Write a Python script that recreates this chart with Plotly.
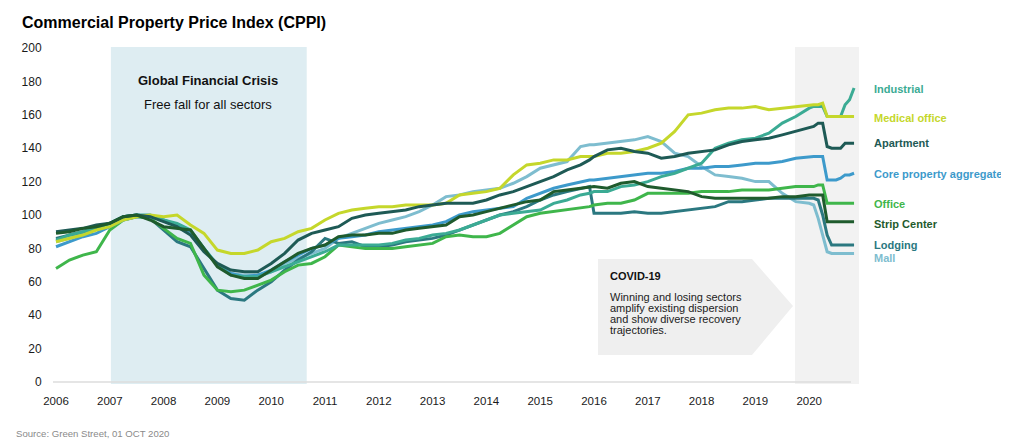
import plotly.graph_objects as go

# ---------------- data ----------------
dates = [
    "2006-01", "2006-04", "2006-07", "2006-10",
    "2007-01", "2007-04", "2007-07", "2007-10",
    "2008-01", "2008-04", "2008-07", "2008-10",
    "2009-01", "2009-04", "2009-07", "2009-10",
    "2010-01", "2010-04", "2010-07", "2010-10",
    "2011-01", "2011-04", "2011-07", "2011-10",
    "2012-01", "2012-04", "2012-07", "2012-10",
    "2013-01", "2013-04", "2013-07", "2013-10",
    "2014-01", "2014-04", "2014-07", "2014-10",
    "2015-01", "2015-04", "2015-07", "2015-10", "2015-12",
    "2016-01", "2016-04", "2016-07", "2016-10",
    "2017-01", "2017-04", "2017-07", "2017-10",
    "2018-01", "2018-04", "2018-07", "2018-10",
    "2019-01", "2019-04", "2019-07", "2019-10",
    "2020-01", "2020-02", "2020-03", "2020-04", "2020-05", "2020-06",
    "2020-07", "2020-08", "2020-09", "2020-10", "2020-11",
]

industrial = [
    85, 88, 90, 92, 95, 99, 100, 100, 97, 95, 91, 80, 70, 64, 63, 63,
    66, 69, 72, 75, 78, 82, 82, 82, 82, 83, 85, 86, 88, 89, 91, 94,
    97, 100, 101, 102, 103, 107, 109, 112, 113,
    114, 114, 117, 118, 120, 123, 125, 128, 131, 140, 143, 145, 146, 149, 155, 159,
    164, 165, 165, 165, 159, 159, 159, 159, 166, 169, 176,
]
medical_office = [
    84, 86, 88, 91, 93, 97, 99, 100, 99, 100, 94, 89, 79, 77, 77, 79,
    84, 86, 90, 92, 97, 101, 103, 104, 105, 105, 106, 106, 106, 107, 112, 113,
    114, 116, 124, 130, 131, 133, 133, 135, 135,
    135, 137, 137, 138, 140, 143, 150, 160, 161, 163, 164, 164, 165, 163, 164, 165,
    166, 166, 166, 167, 159, 159, 159, 159, 159, 159, 159,
]
apartment = [
    90, 91, 92, 94, 95, 99, 100, 99, 96, 93, 88, 78, 71, 67, 66, 66,
    71, 77, 85, 89, 91, 93, 98, 100, 101, 102, 103, 105, 106, 107, 107, 107,
    109, 112, 114, 117, 120, 123, 127, 130, 133,
    135, 139, 140, 138, 137, 134, 135, 137, 138, 139, 142, 144, 145, 146, 148, 150,
    152, 153, 155, 155, 141, 140, 140, 140, 143, 143, 143,
]
core_aggregate = [
    81, 84, 87, 89, 93, 97, 99, 99, 97, 94, 90, 80, 70, 65, 63, 64,
    67, 72, 76, 80, 82, 86, 87, 88, 90, 91, 92, 93, 94, 96, 100, 102,
    103, 104, 105, 110, 113, 116, 118, 120, 121,
    121, 122, 123, 124, 125, 125, 126, 128, 128, 129, 129, 130, 131, 131, 132, 134,
    135, 135, 135, 135, 121, 121, 121, 122, 124, 124, 125,
]
office = [
    68, 73, 76, 78, 91, 97, 99, 98, 92, 86, 83, 64, 55, 54, 55, 58,
    61, 66, 70, 71, 75, 82, 81, 80, 80, 80, 81, 82, 83, 87, 88, 87,
    87, 89, 94, 99, 101, 102, 103, 104, 105,
    106, 107, 107, 109, 113, 113, 113, 113, 114, 114, 114, 115, 115, 115, 116, 117,
    117, 117, 118, 118, 107, 107, 107, 107, 107, 107, 107,
]
strip_center = [
    89, 90, 92, 93, 95, 99, 100, 97, 93, 92, 91, 80, 69, 64, 62, 62,
    67, 72, 77, 80, 82, 87, 88, 88, 89, 89, 91, 92, 93, 94, 99, 100,
    102, 104, 106, 108, 109, 114, 115, 116, 117,
    117, 116, 119, 120, 117, 116, 115, 114, 111, 110, 110, 110, 110, 110, 111, 111,
    112, 112, 112, 112, 96, 96, 96, 96, 96, 96, 96,
]
lodging = [
    86, 88, 90, 93, 95, 99, 100, 98, 91, 84, 81, 68, 55, 50, 49, 55,
    60, 67, 73, 78, 86, 83, 84, 81, 81, 82, 84, 85, 86, 88, 91, 94,
    97, 100, 102, 105, 109, 112, 114, 116, 117,
    101, 101, 101, 102, 101, 101, 102, 103, 104, 105, 108, 108, 109, 110, 110, 110,
    110, 110, 109, 100, 88, 82, 82, 82, 82, 82, 82,
]
mall = [
    84, 86, 89, 92, 95, 99, 100, 99, 97, 94, 90, 80, 70, 65, 64, 64,
    66, 71, 74, 77, 80, 86, 89, 92, 95, 97, 99, 102, 106, 111, 112, 114,
    115, 116, 119, 123, 128, 130, 132, 141, 142,
    142, 143, 144, 145, 147, 144, 137, 135, 129, 124, 123, 122, 120, 120, 113, 108,
    107, 106, 98, 88, 78, 77, 77, 77, 77, 77, 77,
]

series_names = ["Mall", "Lodging", "Office", "Core property aggregate",
                "Industrial", "Medical office", "Apartment", "Strip Center"]
series_values = [mall, lodging, office, core_aggregate,
                 industrial, medical_office, apartment, strip_center]
series_colors = ["#7ebdcf", "#2b7880", "#3fb64b", "#3d9acb",
                 "#3bab94", "#c5d72b", "#1e5a55", "#1f5b2d"]

year_ticks = list(range(2006, 2021))
y_ticks = list(range(0, 201, 20))

# ---------------- layout helpers ----------------
# The page body has an 8px margin, so the figure is drawn 8px in from the window edge.
OFF = 8
W, H = 1009 - OFF, 446 - OFF
ML, MT = 53 - OFF, 47 - OFF
PW, PH = 807, 337
MR = W - ML - PW
MB = H - MT - PH
X0, X1 = 2005.944, 2020.944
Y0, Y1 = -1.2, 200.6


def px_x(p):  # window pixel -> data x
    return X0 + (p - OFF - ML) / PW * (X1 - X0)


def px_y(p):  # window pixel -> data y
    return Y1 - (p - OFF - MT) / PH * (Y1 - Y0)


def paper_x(p):
    return (p - OFF - ML) / PW


def paper_y(p):
    return (MT + PH - (p - OFF)) / PH


def to_year(d):
    y, m = d.split("-")
    return int(y) + (int(m) - 1) / 12


xs = [to_year(d) for d in dates]

FONT = "Liberation Sans, Arial, Helvetica, sans-serif"

fig = go.Figure()
for name, vals, col in zip(series_names, series_values, series_colors):
    fig.add_trace(go.Scatter(x=xs, y=vals, mode="lines", name=name,
                             line=dict(color=col, width=3), hoverinfo="skip"))

shapes = [
    dict(type="rect", xref="x", yref="paper", x0=2007.02, x1=2010.66, y0=0, y1=1,
         fillcolor="#deedf2", line=dict(width=0), layer="below"),
    dict(type="rect", xref="x", yref="paper", x0=px_x(795), x1=px_x(859), y0=0, y1=1,
         fillcolor="#f2f2f2", line=dict(width=0), layer="below"),
    dict(type="line", xref="x", yref="y", x0=X0, x1=px_x(851), y0=0, y1=0,
         line=dict(color="#dcdcdc", width=1.5), layer="below"),
]
arrow_pts = [(598, 259), (752, 259), (793, 306), (752, 355), (598, 355)]
path = "M " + " L ".join(f"{px_x(a):.4f},{px_y(b):.4f}" for a, b in arrow_pts) + " Z"
shapes.append(dict(type="path", xref="x", yref="y", path=path,
                   fillcolor="#efefef", line=dict(width=0), layer="below"))

annotations = []
# GFC text
annotations.append(dict(xref="paper", yref="paper", x=paper_x(208), y=paper_y(80),
                        text="<b>Global Financial Crisis</b>", showarrow=False,
                        font=dict(size=13, color="#111"), xanchor="center", yanchor="middle"))
annotations.append(dict(xref="paper", yref="paper", x=paper_x(208), y=paper_y(105),
                        text="Free fall for all sectors", showarrow=False,
                        font=dict(size=13, color="#111"), xanchor="center", yanchor="middle"))
# COVID text
annotations.append(dict(xref="paper", yref="paper", x=paper_x(608), y=paper_y(276),
                        text="<b>COVID-19</b>", showarrow=False,
                        font=dict(size=11, color="#111"), xanchor="left", yanchor="middle"))
covid_lines = ["Winning and losing sectors", "amplify existing dispersion",
               "and show diverse recovery", "trajectories."]
for i, t in enumerate(covid_lines):
    annotations.append(dict(xref="paper", yref="paper", x=paper_x(608), y=paper_y(297 + 11 * i),
                            text=t, showarrow=False,
                            font=dict(size=11, color="#222"), xanchor="left", yanchor="middle"))
# right-hand labels
label_text = ["Industrial", "Medical office", "Apartment", "Core property aggregate",
              "Office", "Strip Center", "Lodging", "Mall"]
label_px_y = [89, 118, 143, 174, 204, 224, 245, 258]
label_colors = ["#3bab94", "#c5d72b", "#1e5a55", "#3d9acb",
                "#3fb64b", "#1f5b2d", "#2b7880", "#7ebdcf"]
for t, py, c in zip(label_text, label_px_y, label_colors):
    annotations.append(dict(xref="paper", yref="paper", x=paper_x(872), y=paper_y(py),
                            text=f"<b>{t}</b>", showarrow=False,
                            font=dict(size=11, color=c), xanchor="left", yanchor="middle"))
# source
annotations.append(dict(xref="paper", yref="paper", x=paper_x(14), y=paper_y(433),
                        text="Source: Green Street, 01 OCT 2020", showarrow=False,
                        font=dict(size=9.6, color="#8a8a8a"), xanchor="left", yanchor="middle"))

fig.update_layout(
    width=W, height=H,
    margin=dict(l=ML, r=MR, t=MT, b=MB),
    plot_bgcolor="white", paper_bgcolor="white",
    showlegend=False,
    font=dict(family=FONT, color="#1a1a1a"),
    title=dict(text="<b>Commercial Property Price Index (CPPI)</b>",
               x=(22 - OFF) / W, xanchor="left", xref="container",
               y=1 - (22 - OFF) / H, yanchor="middle", yref="container",
               font=dict(size=16, color="#000", family=FONT)),
    xaxis=dict(range=[X0, X1], tickvals=year_ticks, ticktext=[str(y) for y in year_ticks],
               showgrid=False, zeroline=False, showline=False,
               ticks="outside", ticklen=6, tickcolor="rgba(0,0,0,0)",
               tickfont=dict(size=11.5, color="#1a1a1a")),
    yaxis=dict(range=[Y0, Y1], tickvals=y_ticks,
               showgrid=False, zeroline=False, showline=False,
               ticks="outside", ticklen=8, tickcolor="rgba(0,0,0,0)",
               tickfont=dict(size=12, color="#1a1a1a")),
    shapes=shapes,
    annotations=annotations,
)

fig.write_html("out.html")
